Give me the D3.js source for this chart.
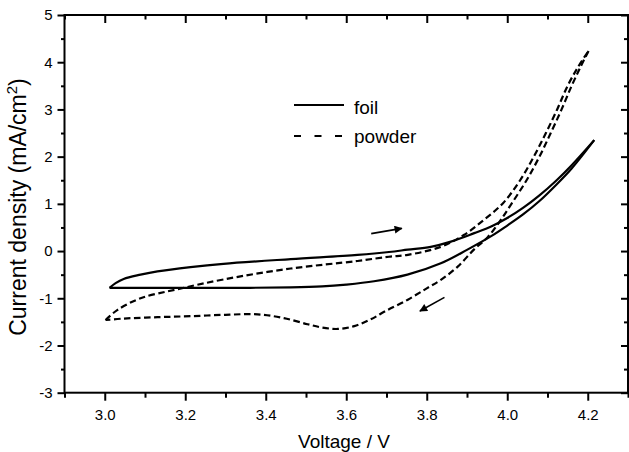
<!DOCTYPE html>
<html>
<head>
<meta charset="utf-8">
<script src="https://cdn.jsdelivr.net/npm/d3@7"></script>
<style>
  html, body { margin: 0; padding: 0; background: #fff; }
  svg { display: block; font-family: "Liberation Sans", Arial, sans-serif; }
</style>
</head>
<body>
<div id="chart"></div>
<script>
// foil: forward (anodic) scan, then reverse scan
const foilFwdV = [3.012, 3.027, 3.047, 3.089, 3.131, 3.213, 3.295, 3.462, 3.628, 3.706, 3.753, 3.810, 3.860, 3.918, 3.960, 4.000, 4.040, 4.080, 4.120, 4.160, 4.216];
const foilFwdI = [-0.78, -0.68, -0.59, -0.50, -0.43, -0.34, -0.27, -0.17, -0.08, -0.02, 0.03, 0.09, 0.20, 0.38, 0.52, 0.70, 0.92, 1.18, 1.48, 1.82, 2.35];
const foilRevV = [4.216, 4.160, 4.120, 4.080, 4.040, 4.000, 3.959, 3.901, 3.835, 3.752, 3.669, 3.600, 3.540, 3.462, 3.300, 3.150, 3.012];
const foilRevI = [2.35, 1.75, 1.39, 1.06, 0.78, 0.54, 0.31, 0.03, -0.26, -0.50, -0.64, -0.71, -0.75, -0.77, -0.78, -0.78, -0.78];

// powder
const powderFwdV = [3.002, 3.031, 3.089, 3.180, 3.296, 3.462, 3.628, 3.706, 3.753, 3.835, 3.892, 3.942, 3.990, 4.032, 4.066, 4.096, 4.124, 4.150, 4.176, 4.202];
const powderFwdI = [-1.46, -1.25, -1.00, -0.81, -0.60, -0.37, -0.21, -0.12, -0.08, 0.09, 0.34, 0.66, 1.02, 1.50, 2.00, 2.50, 3.00, 3.50, 3.90, 4.24];
const powderRevV = [4.202, 4.182, 4.160, 4.135, 4.108, 4.080, 4.048, 4.012, 3.984, 3.952, 3.917, 3.877, 3.835, 3.800, 3.753, 3.700, 3.660, 3.620, 3.579, 3.540, 3.504, 3.445, 3.380, 3.300, 3.213, 3.131, 3.047, 3.002];
const powderRevI = [4.24, 3.90, 3.50, 3.00, 2.50, 2.00, 1.50, 1.02, 0.66, 0.30, 0.03, -0.33, -0.61, -0.79, -1.03, -1.26, -1.45, -1.59, -1.65, -1.62, -1.55, -1.42, -1.34, -1.35, -1.38, -1.40, -1.43, -1.46];

const xTicks = [3.0, 3.2, 3.4, 3.6, 3.8, 4.0, 4.2];
const xMinor = [2.9, 3.1, 3.3, 3.5, 3.7, 3.9, 4.1, 4.3];
const yTicks = [-3, -2, -1, 0, 1, 2, 3, 4, 5];
const yMinor = [-2.5, -1.5, -0.5, 0.5, 1.5, 2.5, 3.5, 4.5];

// scan direction arrows [V0, I0, V1, I1]
const arrowFwd = [3.662, 0.37, 3.738, 0.48];
const arrowRev = [3.844, -0.98, 3.783, -1.27];

const W = 629, H = 452;
const m = { left: 64.5, right: 628, top: 15, bottom: 392.7 };

const svg = d3.select("#chart").append("svg")
    .attr("width", W)
    .attr("height", H);

const x = d3.scaleLinear().domain([2.9, 4.3]).range([m.left, m.right]);
const y = d3.scaleLinear().domain([-3, 5]).range([m.bottom, m.top]);

function pairs(vs, is) { return vs.map((v, k) => [v, is[k]]); }

// axes
function styleAxis(g) {
    g.select(".domain").remove();
    g.selectAll(".tick line").attr("stroke", "#000").attr("stroke-width", 2);
    g.selectAll(".tick text").attr("fill", "#000").style("font-size", "15px");
}

svg.append("g").attr("transform", `translate(0,${m.bottom})`)
    .call(d3.axisBottom(x).tickValues(xTicks).tickFormat(d => d.toFixed(1)).tickSize(8).tickPadding(9))
    .call(styleAxis);
svg.append("g").attr("transform", `translate(0,${m.bottom})`)
    .call(d3.axisBottom(x).tickValues(xMinor).tickFormat("").tickSize(5))
    .call(styleAxis);
svg.append("g").attr("transform", `translate(0,${m.top})`)
    .call(d3.axisTop(x).tickValues(xTicks).tickFormat("").tickSize(-8))
    .call(styleAxis);
svg.append("g").attr("transform", `translate(0,${m.top})`)
    .call(d3.axisTop(x).tickValues(xMinor).tickFormat("").tickSize(-4.5))
    .call(styleAxis);

svg.append("g").attr("transform", `translate(${m.left},0)`)
    .call(d3.axisLeft(y).tickValues(yTicks).tickFormat(d => String(d)).tickSize(7).tickPadding(5))
    .call(styleAxis);
svg.append("g").attr("transform", `translate(${m.left},0)`)
    .call(d3.axisLeft(y).tickValues(yMinor).tickFormat("").tickSize(3.5))
    .call(styleAxis);
svg.append("g").attr("transform", `translate(${m.right},0)`)
    .call(d3.axisRight(y).tickValues(yTicks).tickFormat("").tickSize(-7))
    .call(styleAxis);
svg.append("g").attr("transform", `translate(${m.right},0)`)
    .call(d3.axisRight(y).tickValues(yMinor).tickFormat("").tickSize(-4))
    .call(styleAxis);

svg.append("rect")
    .attr("x", m.left).attr("y", m.top)
    .attr("width", m.right - m.left).attr("height", m.bottom - m.top)
    .attr("fill", "none").attr("stroke", "#000").attr("stroke-width", 2);

// curves
const line = d3.line()
    .x(d => x(d[0]))
    .y(d => y(d[1]))
    .curve(d3.curveCatmullRom.alpha(0.5));

const curves = [
    { v: foilFwdV, i: foilFwdI, dash: null },
    { v: foilRevV, i: foilRevI, dash: null },
    { v: powderFwdV, i: powderFwdI, dash: "6.5,3.5" },
    { v: powderRevV, i: powderRevI, dash: "6.5,3.5" }
];

svg.selectAll(".curve")
    .data(curves)
    .enter()
    .append("path")
    .attr("class", "curve")
    .attr("d", d => line(pairs(d.v, d.i)))
    .attr("fill", "none")
    .attr("stroke", "#000")
    .attr("stroke-width", 2.2)
    .attr("stroke-linejoin", "round")
    .attr("stroke-dasharray", d => d.dash);

// arrows
svg.append("defs").append("marker")
    .attr("id", "head")
    .attr("viewBox", "0 0 10 10")
    .attr("refX", 9).attr("refY", 5)
    .attr("markerWidth", 10).attr("markerHeight", 8)
    .attr("markerUnits", "userSpaceOnUse")
    .attr("orient", "auto")
    .append("path")
    .attr("d", "M0,0 L10,5 L0,10 Z")
    .attr("fill", "#000");

svg.selectAll(".arrow")
    .data([arrowFwd, arrowRev])
    .enter()
    .append("line")
    .attr("class", "arrow")
    .attr("x1", d => x(d[0])).attr("y1", d => y(d[1]))
    .attr("x2", d => x(d[2])).attr("y2", d => y(d[3]))
    .attr("stroke", "#000")
    .attr("stroke-width", 1.6)
    .attr("marker-end", "url(#head)");

// legend
const legend = svg.append("g").attr("transform", "translate(294,105)");
legend.append("line")
    .attr("x1", 0).attr("x2", 50).attr("y1", 0).attr("y2", 0)
    .attr("stroke", "#000").attr("stroke-width", 2.2);
legend.append("text")
    .attr("x", 60).attr("y", 9)
    .style("font-size", "19px")
    .text("foil");
legend.append("line")
    .attr("x1", 0).attr("x2", 48).attr("y1", 31).attr("y2", 31)
    .attr("stroke", "#000").attr("stroke-width", 2.2)
    .attr("stroke-dasharray", "7,13.5");
legend.append("text")
    .attr("x", 60).attr("y", 38)
    .style("font-size", "19px")
    .text("powder");

// axis titles
svg.append("text")
    .attr("x", 344).attr("y", 448)
    .attr("text-anchor", "middle")
    .style("font-size", "19px")
    .text("Voltage / V");

const yTitle = svg.append("text")
    .attr("transform", "translate(26,207) rotate(-90)")
    .attr("text-anchor", "middle")
    .style("font-size", "23px");
yTitle.append("tspan").text("Current density (mA/cm");
yTitle.append("tspan").attr("dy", -9).style("font-size", "15px").text("2");
yTitle.append("tspan").attr("dy", 9).text(")");
</script>
</body>
</html>
